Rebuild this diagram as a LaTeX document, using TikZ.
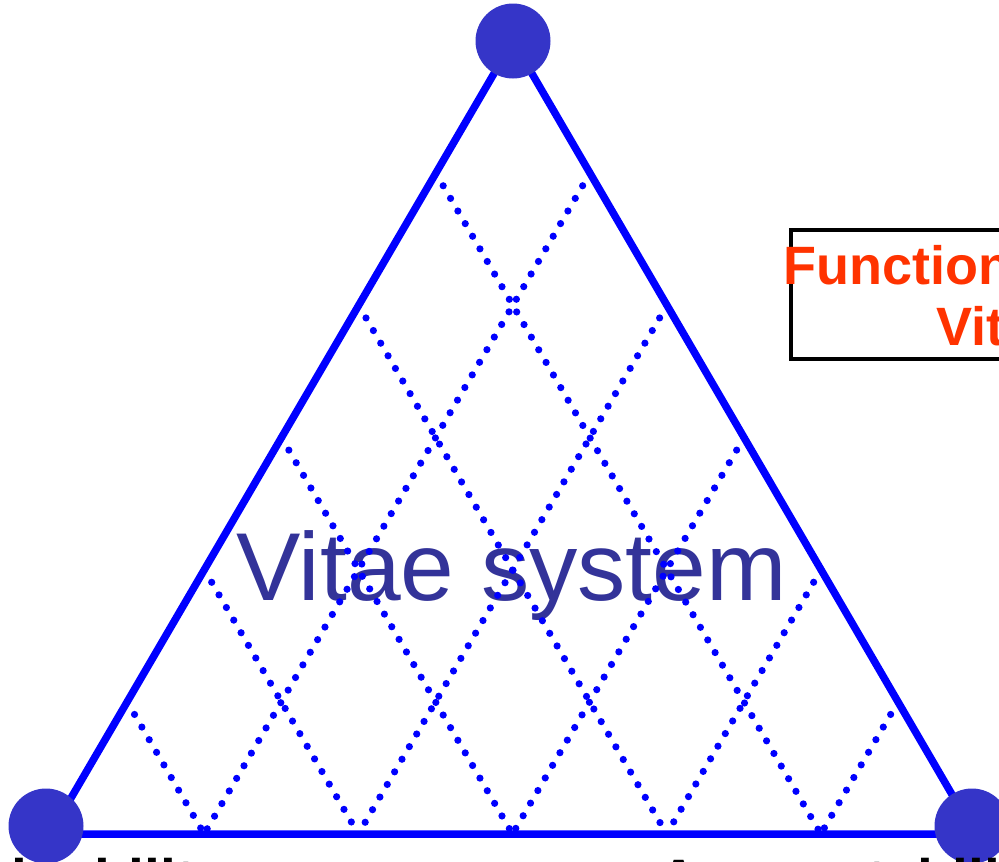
\documentclass[tikz,border=0pt]{standalone}
\usepackage{fontspec}
\setmainfont{Liberation Sans}
\usetikzlibrary{calc}
\definecolor{edgeblue}{HTML}{0000FF}
\definecolor{vertexblue}{HTML}{3535C8}
\definecolor{titleblue}{HTML}{333399}
\definecolor{boxred}{HTML}{FF3300}
\begin{document}
\begin{tikzpicture}[x=1pt,y=-1pt,
  edge/.style={draw=edgeblue,line width=7.5pt,line join=round},
  gridline/.style={draw=edgeblue,line width=7.2pt,line cap=round,dash pattern=on 0pt off 14.6pt},
  vertex/.style={circle,fill=vertexblue,minimum size=75pt,inner sep=0pt},
  boxtext/.style={text=boxred,font=\fontsize{54}{54}\selectfont\bfseries,inner sep=0pt,anchor=base west},
  cornerlabel/.style={text=black,font=\fontsize{57}{57}\selectfont\bfseries,inner sep=0pt,anchor=base west}]
\useasboundingbox (0,0) rectangle (999,862);
\clip (0,0) rectangle (999,862);
% main label
\node[inner sep=0pt,anchor=base west,text=titleblue,font=\fontsize{96.5}{96.5}\selectfont] (title) at (236,600) {Vitae system};
% triangle corners
\coordinate (T) at (513,41);
\coordinate (L) at (50,834);
\coordinate (R) at (975,834);
\foreach \k in {1,...,5}{
  \coordinate (l\k) at ($(T)!\k/6!(L)$);
  \coordinate (r\k) at ($(T)!\k/6!(R)$);
  \coordinate (b\k) at ($(L)!\k/6!(R)$);
}
% dotted grid
\foreach \k in {1,...,5}{
  \pgfmathtruncatemacro\j{6-\k}
  \draw[gridline] (l\k) -- (b\j);
  \draw[gridline] (r\k) -- (b\k);
}
% triangle
\draw[edge] (T) -- (L) -- (R) -- cycle;
% vertices
\node[vertex] (vT) at (513,41) {};
\node[vertex] (vL) at (46,826) {};
\node[vertex] (vR) at (972,826) {};
% box
\draw[black,line width=4pt] (1010,230) -- (791,230) -- (791,359) -- (1010,359);
\node[boxtext] (box1) at (783,284) {Functional};
\node[boxtext] (box2) at (936,345) {Vitae};
% corner labels (mostly outside the frame)
\node[cornerlabel] (labL) at (-169,899) {Maintainability};
\node[cornerlabel] (labR) at (658,899) {Accountability};
\end{tikzpicture}
\end{document}
